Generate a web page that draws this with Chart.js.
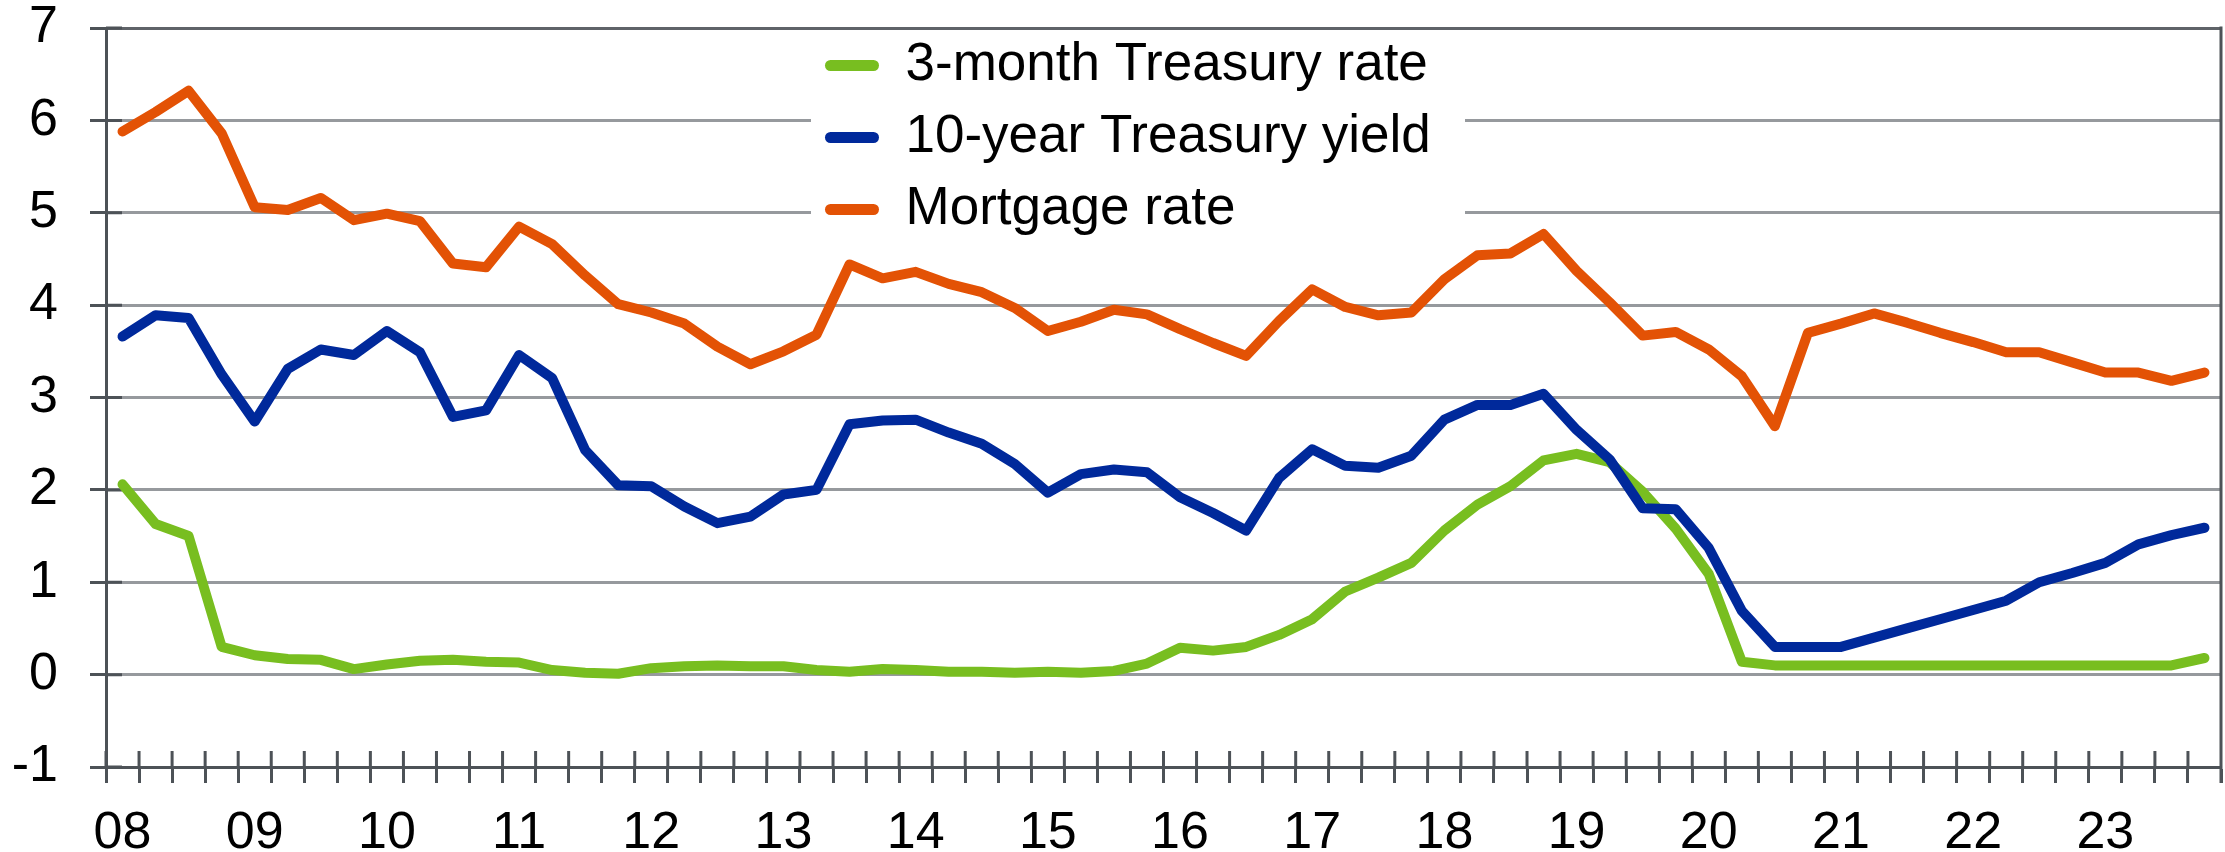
<!DOCTYPE html>
<html>
<head>
<meta charset="utf-8">
<title>Treasury and mortgage rates</title>
<script src="https://cdn.jsdelivr.net/npm/chart.js@4.4.1/dist/chart.umd.min.js"></script>
<style>
  html, body { margin: 0; padding: 0; background: #fff; }
  #wrap { width: 2225px; height: 852px; }
</style>
</head>
<body>
<div id="wrap"><canvas id="myChart" width="2225" height="852"></canvas></div>
<script>
// quarterly data, 2008Q1 .. 2023Q4 (one row per year)
const years = ['08', '09', '10', '11', '12', '13', '14', '15',
               '16', '17', '18', '19', '20', '21', '22', '23'];
const quarters = years.flatMap(y => ['Q1', 'Q2', 'Q3', 'Q4'].map(q => y + q));

const threeMonth = [
  2.06, 1.63, 1.50, 0.30,
  0.21, 0.17, 0.16, 0.06,
  0.11, 0.15, 0.16, 0.14,
  0.13, 0.05, 0.02, 0.01,
  0.07, 0.09, 0.10, 0.09,
  0.09, 0.05, 0.03, 0.06,
  0.05, 0.03, 0.03, 0.02,
  0.03, 0.02, 0.04, 0.12,
  0.29, 0.26, 0.30, 0.43,
  0.60, 0.90, 1.05, 1.21,
  1.56, 1.84, 2.04, 2.32,
  2.39, 2.30, 1.98, 1.58,
  1.09, 0.14, 0.10, 0.10,
  0.10, 0.10, 0.10, 0.10,
  0.10, 0.10, 0.10, 0.10,
  0.10, 0.10, 0.10, 0.18
];

const tenYear = [
  3.66, 3.89, 3.86, 3.25,
  2.74, 3.31, 3.52, 3.46,
  3.72, 3.49, 2.79, 2.86,
  3.46, 3.21, 2.43, 2.05,
  2.04, 1.82, 1.64, 1.71,
  1.95, 2.00, 2.71, 2.75,
  2.76, 2.62, 2.50, 2.28,
  1.97, 2.17, 2.22, 2.19,
  1.92, 1.75, 1.56, 2.13,
  2.44, 2.26, 2.24, 2.37,
  2.76, 2.92, 2.92, 3.04,
  2.65, 2.33, 1.80, 1.79,
  1.37, 0.69, 0.30, 0.30,
  0.30, 0.40, 0.50, 0.60,
  0.70, 0.80, 1.00, 1.10,
  1.21, 1.41, 1.51, 1.59
];

const mortgage = [
  5.88, 6.09, 6.32, 5.86,
  5.06, 5.03, 5.16, 4.92,
  4.99, 4.91, 4.45, 4.41,
  4.85, 4.66, 4.32, 4.01,
  3.92, 3.80, 3.55, 3.36,
  3.50, 3.68, 4.44, 4.29,
  4.36, 4.23, 4.14, 3.97,
  3.72, 3.82, 3.95, 3.90,
  3.74, 3.59, 3.45, 3.83,
  4.17, 3.98, 3.89, 3.92,
  4.28, 4.54, 4.56, 4.77,
  4.37, 4.03, 3.67, 3.71,
  3.52, 3.23, 2.69, 3.70,
  3.80, 3.91, 3.81, 3.70,
  3.60, 3.49, 3.49, 3.38,
  3.27, 3.27, 3.18, 3.27
];

const seriesNames = ['3-month Treasury rate', '10-year Treasury yield', 'Mortgage rate'];
const seriesColors = ['#78be20', '#00299b', '#e35205'];

const axisColor = '#4d5257';
const gridColor = '#96999d';
const fontFamily = '"Liberation Sans", Arial, Helvetica, sans-serif';

// where the legend box sits inside the plot
const legendSpot = { left: 806, top: 20, width: 720, height: 300 };

// legend placement, white legend background, tick marks crossing the axes, right frame
const frame = {
  id: 'frame',
  afterUpdate(chart) {
    const lg = chart.legend;
    lg.left = legendSpot.left;
    lg.top = legendSpot.top;
    lg.width = legendSpot.width;
    lg.height = legendSpot.height;
    lg.right = lg.left + lg.width;
    lg.bottom = lg.top + lg.height;
  },
  beforeDatasetsDraw(chart) {
    const { ctx, chartArea: a, scales: { x, y } } = chart;
    ctx.save();
    ctx.fillStyle = '#fff';
    ctx.fillRect(811, 31, 654, 214);

    ctx.strokeStyle = axisColor;
    ctx.lineWidth = 3;
    ctx.beginPath();
    y.ticks.forEach(t => {
      const py = y.getPixelForValue(t.value);
      ctx.moveTo(a.left, py);
      ctx.lineTo(a.left + 16, py);
    });
    const step = x.getPixelForValue(1) - x.getPixelForValue(0);
    for (let i = 0; i <= quarters.length; i++) {
      const px = x.getPixelForValue(0) - step / 2 + i * step;
      ctx.moveTo(px, a.bottom);
      ctx.lineTo(px, a.bottom - 16);
    }
    ctx.moveTo(a.right, a.top - 1.5);
    ctx.lineTo(a.right, a.bottom + 16);
    ctx.stroke();
    ctx.restore();

    chart.legend.draw();
  }
};

const ctx = document.getElementById('myChart').getContext('2d');
const myChart = new Chart(ctx, {
  type: 'line',
  data: {
    labels: quarters,
    datasets: [threeMonth, tenYear, mortgage].map((values, i) => ({
      label: seriesNames[i],
      data: values,
      borderColor: seriesColors[i],
      backgroundColor: seriesColors[i],
      borderWidth: 10,
      borderCapStyle: 'round',
      borderJoinStyle: 'round',
      pointRadius: 0,
      tension: 0,
      fill: false,
      order: 3 - i
    }))
  },
  options: {
    responsive: false,
    animation: false,
    devicePixelRatio: 1,
    layout: { padding: { top: 28, right: 4, left: 0, bottom: 0 } },
    font: { family: fontFamily },
    plugins: {
      tooltip: { enabled: false },
      legend: {
        display: true,
        position: 'chartArea',
        align: 'start',
        labels: {
          font: { family: fontFamily, size: 53 },
          color: '#000',
          padding: 19,
          boxWidth: 54,
          boxHeight: 11,
          generateLabels: chart => chart.data.datasets.map((ds, i) => ({
            text: ds.label,
            fillStyle: ds.borderColor,
            strokeStyle: ds.borderColor,
            lineWidth: 0,
            borderRadius: 5.5,
            fontColor: '#000',
            hidden: false,
            datasetIndex: i
          }))
        }
      }
    },
    scales: {
      x: {
        type: 'category',
        offset: true,
        grid: {
          offset: true,
          drawOnChartArea: false,
          drawTicks: true,
          tickLength: 16,
          tickColor: axisColor,
          tickWidth: 3
        },
        border: { color: axisColor, width: 3 },
        ticks: {
          autoSkip: false,
          maxRotation: 0,
          minRotation: 0,
          padding: 19,
          color: '#000',
          font: { family: fontFamily, size: 52 },
          callback: function(value, index) {
            return index % 4 === 0 ? years[index / 4] : '';
          }
        },
        afterFit: scale => {
          scale.height = 85;
          scale.paddingLeft = 0;
          scale.paddingRight = 0;
        }
      },
      y: {
        min: -1,
        max: 7,
        grid: {
          color: c => (c.tick && c.tick.value === 7 ? '#5f6368' : gridColor),
          lineWidth: 3,
          tickLength: 16,
          tickColor: axisColor,
          tickWidth: 3
        },
        border: { color: axisColor, width: 3 },
        ticks: {
          stepSize: 1,
          padding: 32,
          color: '#000',
          font: { family: fontFamily, size: 52, lineHeight: 1 }
        },
        afterFit: scale => {
          scale.width = 106;
          scale.paddingTop = 0;
          scale.paddingBottom = 0;
        }
      }
    }
  },
  plugins: [frame]
});
</script>
</body>
</html>
